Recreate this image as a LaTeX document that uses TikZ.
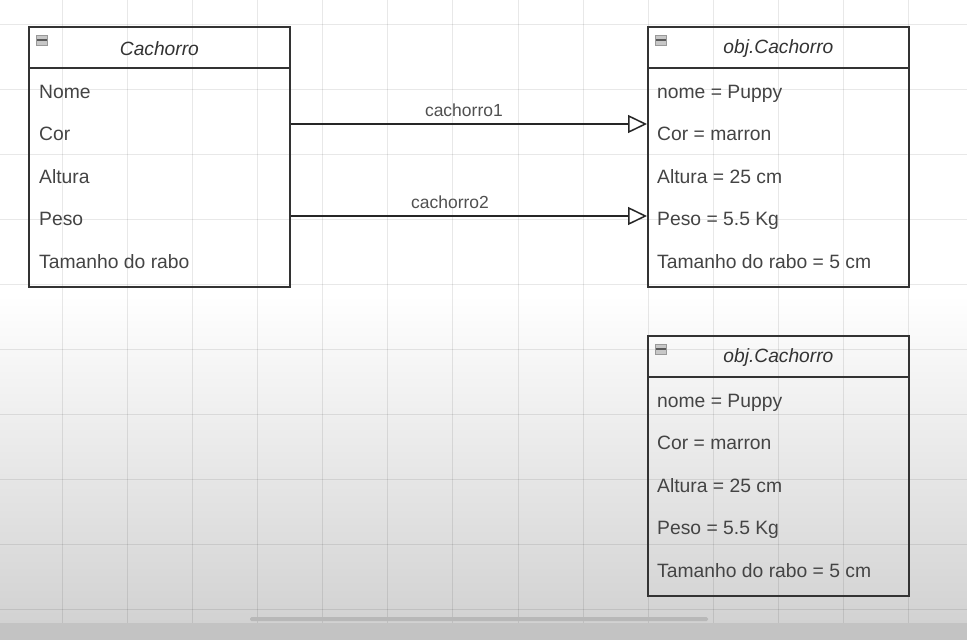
\documentclass[tikz,border=0pt]{standalone}
\usepackage{fontspec}
\setmainfont{Liberation Sans}
\usetikzlibrary{arrows.meta}
\definecolor{boxc}{HTML}{333333}
\definecolor{txtc}{HTML}{444444}
\definecolor{hdrc}{HTML}{333333}
\definecolor{lblc}{HTML}{505050}
\definecolor{bandc}{HTML}{C3C3C3}
\definecolor{thumbc}{HTML}{B8B8B8}
\definecolor{shadec}{HTML}{D2D2D2}
\tikzset{
  classbox/.style={draw=boxc, line width=1.8pt, minimum width=261pt, minimum height=260pt, inner sep=0pt, anchor=north west},
  sepline/.style={draw=boxc, line width=1.8pt},
  hdr/.style={font=\fontsize{19.2}{19.2}\selectfont\itshape, text=hdrc, inner sep=0pt},
  attr/.style={font=\fontsize{19.3}{19.3}\selectfont, text=txtc, inner sep=0pt, anchor=base west},
  lbl/.style={font=\fontsize{17.5}{17.5}\selectfont, text=lblc, inner sep=0pt, anchor=base},
  assoc/.style={draw=black!85, line width=1.5pt, -{Triangle[open, length=19pt, width=18pt, fill=white]}},
  icon/.style={draw=black!40, fill=black!22, minimum width=11pt, minimum height=10pt, inner sep=0pt, line width=0.8pt},
  icondash/.style={draw=black!65, line width=2pt},
  gridline/.style={draw=black, opacity=0.09, line width=1pt}
}
\begin{document}
\begin{tikzpicture}[x=1pt,y=-1pt]
\useasboundingbox (0,0) rectangle (967,640);
% background
\fill[white] (0,0) rectangle (967,640);
\shade[top color=white, bottom color=shadec] (0,295) rectangle (967,623);
\foreach \k in {0,...,13} { \draw[gridline] ({62+65.15*\k},0) -- ({62+65.15*\k},623); }
\foreach \k in {0,...,9} { \draw[gridline] (0,{24+65.1*\k}) -- (967,{24+65.1*\k}); }
\fill[bandc] (0,623) rectangle (967,640);
\fill[thumbc, rounded corners=1.5pt] (250,617) rectangle (708,621);

% class Cachorro
\node[classbox] (c1) at (28,26) {};
\draw[sepline] ([yshift=-42pt]c1.north west) -- ([yshift=-42pt]c1.north east);
\node[icon] (c1ic) at ([xshift=14pt,yshift=-14pt]c1.north west) {};
\draw[icondash] ([xshift=1pt]c1ic.west) -- ([xshift=-1pt]c1ic.east);
\node[hdr] (c1h) at ([yshift=-23pt]c1.north) {Cachorro};
\node[attr] (c1a1) at ([xshift=11pt,yshift=-72pt]c1.north west) {Nome};
\node[attr] (c1a2) at ([xshift=11pt,yshift=-114pt]c1.north west) {Cor};
\node[attr] (c1a3) at ([xshift=11pt,yshift=-157pt]c1.north west) {Altura};
\node[attr] (c1a4) at ([xshift=11pt,yshift=-199pt]c1.north west) {Peso};
\node[attr] (c1a5) at ([xshift=11pt,yshift=-242pt]c1.north west) {Tamanho do rabo};

% object 1
\node[classbox] (c2) at (647,26) {};
\draw[sepline] ([yshift=-42pt]c2.north west) -- ([yshift=-42pt]c2.north east);
\node[icon] (c2ic) at ([xshift=14pt,yshift=-14pt]c2.north west) {};
\draw[icondash] ([xshift=1pt]c2ic.west) -- ([xshift=-1pt]c2ic.east);
\node[hdr] (c2h) at ([yshift=-23pt]c2.north) {obj.Cachorro};
\node[attr] (c2a1) at ([xshift=10pt,yshift=-72pt]c2.north west) {nome = Puppy};
\node[attr] (c2a2) at ([xshift=10pt,yshift=-114pt]c2.north west) {Cor = marron};
\node[attr] (c2a3) at ([xshift=10pt,yshift=-157pt]c2.north west) {Altura = 25 cm};
\node[attr] (c2a4) at ([xshift=10pt,yshift=-199pt]c2.north west) {Peso = 5.5 Kg};
\node[attr] (c2a5) at ([xshift=10pt,yshift=-242pt]c2.north west) {Tamanho do rabo = 5 cm};

% object 2
\node[classbox] (c3) at (647,335) {};
\draw[sepline] ([yshift=-42pt]c3.north west) -- ([yshift=-42pt]c3.north east);
\node[icon] (c3ic) at ([xshift=14pt,yshift=-14pt]c3.north west) {};
\draw[icondash] ([xshift=1pt]c3ic.west) -- ([xshift=-1pt]c3ic.east);
\node[hdr] (c3h) at ([yshift=-23pt]c3.north) {obj.Cachorro};
\node[attr] (c3a1) at ([xshift=10pt,yshift=-72pt]c3.north west) {nome = Puppy};
\node[attr] (c3a2) at ([xshift=10pt,yshift=-114pt]c3.north west) {Cor = marron};
\node[attr] (c3a3) at ([xshift=10pt,yshift=-157pt]c3.north west) {Altura = 25 cm};
\node[attr] (c3a4) at ([xshift=10pt,yshift=-199pt]c3.north west) {Peso = 5.5 Kg};
\node[attr] (c3a5) at ([xshift=10pt,yshift=-242pt]c3.north west) {Tamanho do rabo = 5 cm};

% associations
\draw[assoc] ([yshift=-98pt]c1.north east) -- ([yshift=-98pt]c2.north west)
  node[lbl, pos=0.486, yshift=8pt] (l1) {cachorro1};
\draw[assoc] ([yshift=-190pt]c1.north east) -- ([yshift=-190pt]c2.north west)
  node[lbl, pos=0.447, yshift=8pt] (l2) {cachorro2};
\end{tikzpicture}
\end{document}
